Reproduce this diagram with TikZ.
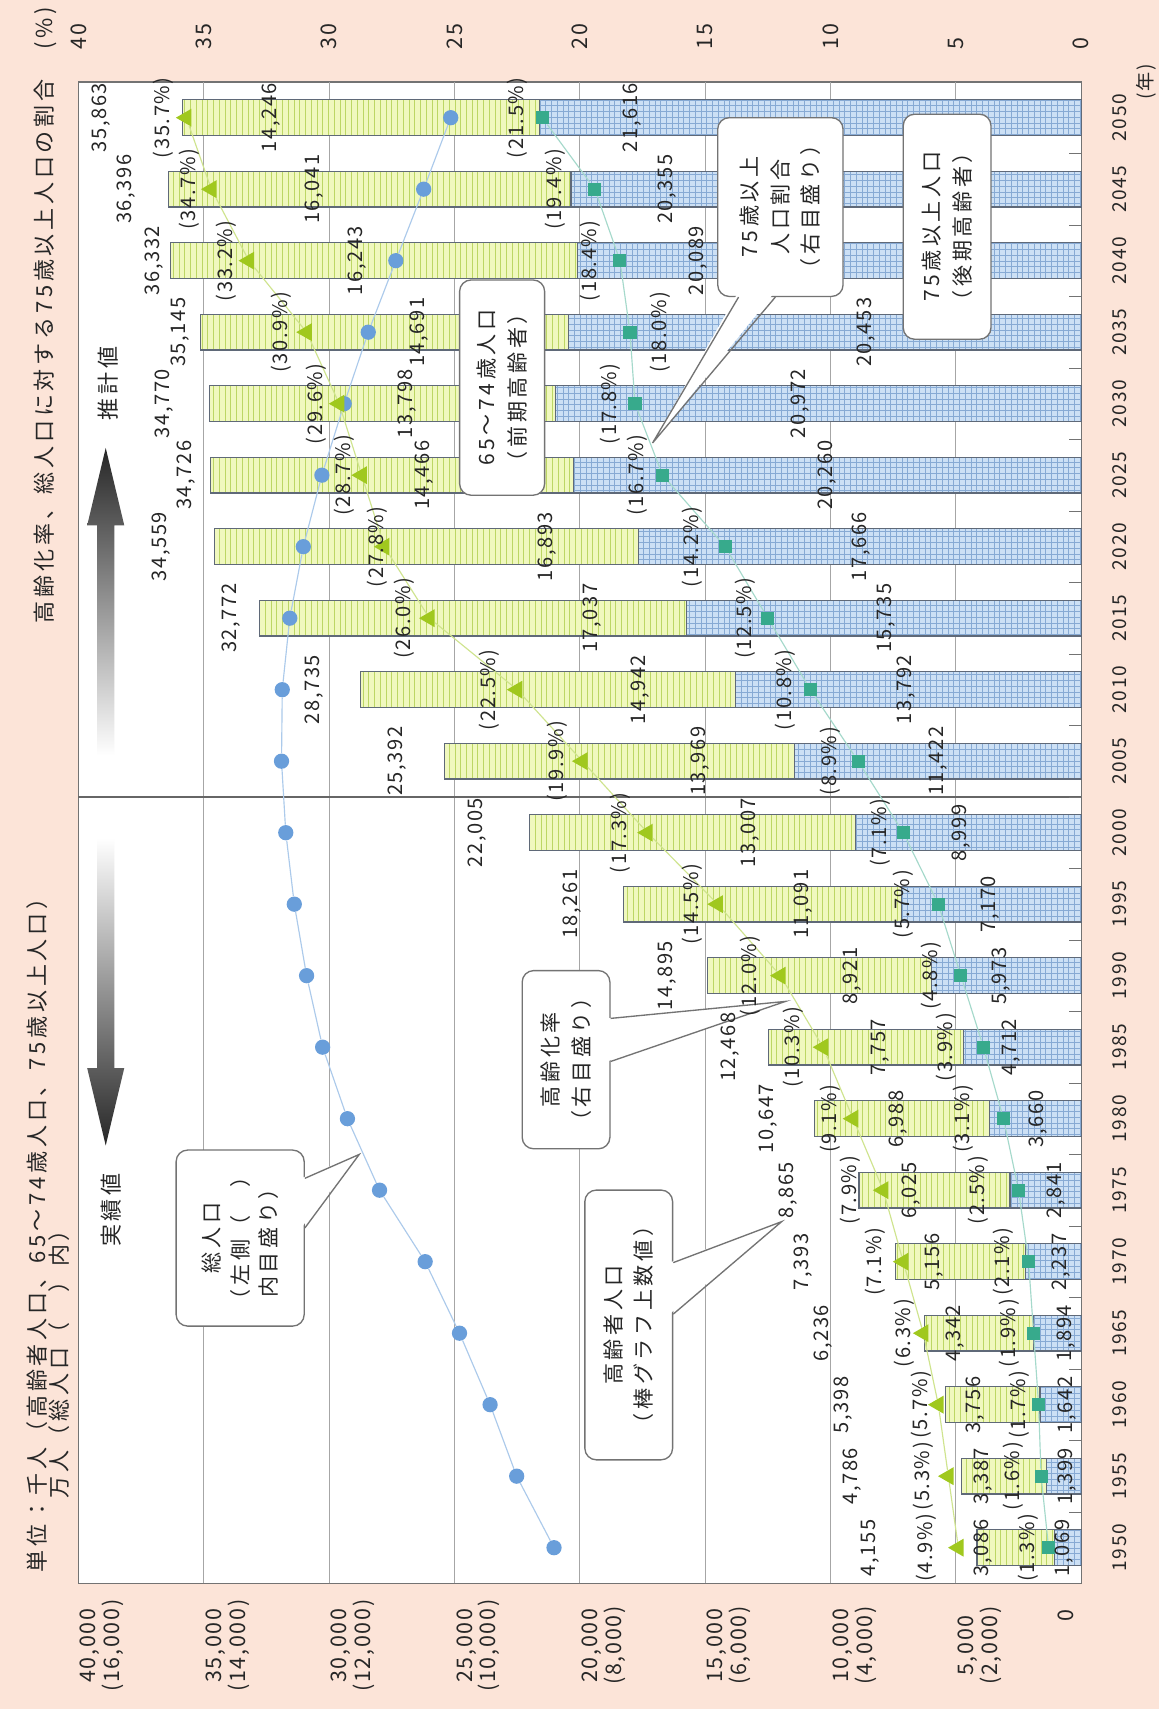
\documentclass[tikz,border=0pt]{standalone}
\usepackage{fontspec}
\setmainfont{Noto Sans CJK JP}[LetterSpace=8]
\newfontfamily\widefont{Noto Sans CJK JP}[LetterSpace=17]
\usetikzlibrary{shapes.geometric,patterns,calc}

\definecolor{bgpink}{RGB}{252,228,216}
\definecolor{oldblue}{RGB}{204,224,245}
\definecolor{oldgrid}{RGB}{135,170,212}
\definecolor{youngfill}{RGB}{240,248,190}
\definecolor{youngline}{RGB}{188,214,100}
\definecolor{barline}{RGB}{95,105,120}
\definecolor{popblue}{RGB}{105,158,218}
\definecolor{rategreen}{RGB}{160,200,30}
\definecolor{oldteal}{RGB}{55,170,140}

\pgfdeclarelayer{front}
\pgfsetlayers{main,front}

\begin{document}
\begin{tikzpicture}[
    font=\fontsize{10.5}{12}\selectfont,
    every node/.style={text=black!85},
    gridline/.style={draw=black!35, line width=0.6pt},
    oldbar/.style={
        draw=barline,
        line width=0.6pt,
        preaction={fill=oldblue},
        pattern=grid,
        pattern color=oldgrid
    },
    youngbar/.style={
        draw=barline,
        line width=0.6pt,
        preaction={fill=youngfill},
        pattern=vertical lines,
        pattern color=youngline
    },
    popdot/.style={circle, fill=popblue, inner sep=0pt, minimum size=0.28cm},
    ratemark/.style={regular polygon, regular polygon sides=3, fill=rategreen, inner sep=0pt, minimum size=0.38cm},
    oldmark/.style={rectangle, fill=oldteal, inner sep=0pt, minimum size=0.24cm},
    popline/.style={draw=popblue!55, line width=0.6pt},
    rateline/.style={draw=rategreen!50, line width=0.6pt},
    oldline/.style={draw=oldteal!45, line width=0.6pt},
    datalabel/.style={inner sep=0pt},
    yearlabel/.style={inner sep=0pt, font=\fontsize{10}{12}\selectfont},
    titletext/.style={inner sep=0pt, align=left, font=\widefont\fontsize{11.5}{11.5}\selectfont},
    axislabel/.style={inner sep=0pt, align=center, font=\fontsize{11.2}{12.5}\selectfont},
    notebox/.style={
        draw=black!55,
        fill=white,
        rounded corners=6pt,
        line width=0.7pt,
        align=center,
        inner sep=2pt,
        font=\widefont\fontsize{11}{16}\selectfont
    },
    boxline/.style={draw=black!55, line width=0.7pt}
]

    % Page
    \fill[bgpink] (0,0) rectangle (21.26,31.36);
    \useasboundingbox (0,0) rectangle (21.26,31.36);

    % Chart, turned a quarter turn
    \begin{scope}[shift={(19.84,2.96)}, rotate=90, x=1.312cm, y=0.46cm, transform shape]

    % Plot area
    \draw[fill=white, draw=black!55, line width=0.7pt] (-0.5,0) rectangle (20.5,40);
    \foreach \v in {5,10,...,35}
        \draw[gridline] (-0.5,\v) -- (20.5,\v);
    \draw[black!60, line width=0.7pt] (10.5,0) -- (10.5,40);
    \foreach \k in {0,...,19}
        \draw[black!55] (\k+0.5,0) -- (\k+0.5,0.5);

    % Bars (75+ / 65-74) with their numbers
    \foreach \i/\ov/\tv/\otx/\ytx/\ttx/\ovl/\yvl/\tvl in {
        0/1.069/4.155/{1,069}/{3,086}/{4,155}/0.67/3.9/8.4,
        1/1.399/4.786/{1,399}/{3,387}/{4,786}/0.55/3.9/9.15,
        2/1.642/5.398/{1,642}/{3,756}/{5,398}/0.55/4.25/9.5,
        3/1.894/6.236/{1,894}/{4,342}/{6,236}/0.6/5.05/10.3,
        4/2.237/7.393/{2,237}/{5,156}/{7,393}/0.8/5.85/11.1,
        5/2.841/8.865/{2,841}/{6,025}/{8,865}/1.0/6.8/11.7,
        6/3.660/10.647/{3,660}/{6,988}/{10,647}/1.7/7.3/12.5,
        7/4.712/12.468/{4,712}/{7,757}/{12,468}/2.8/8.0/14.0,
        8/5.973/14.895/{5,973}/{8,921}/{14,895}/3.2/9.15/16.5,
        9/7.170/18.261/{7,170}/{11,091}/{18,261}/3.65/11.1/20.3,
        10/8.999/22.005/{8,999}/{13,007}/{22,005}/4.8/13.2/24.1,
        11/11.422/25.392/{11,422}/{13,969}/{25,392}/5.7/15.2/27.3,
        12/13.792/28.735/{13,792}/{14,942}/{28,735}/7.0/17.6/30.6,
        13/15.735/32.772/{15,735}/{17,037}/{32,772}/7.8/19.5/33.9,
        14/17.666/34.559/{17,666}/{16,893}/{34,559}/8.8/21.3/36.7,
        15/20.260/34.726/{20,260}/{14,466}/{34,726}/10.15/26.2/35.7,
        16/20.972/34.770/{20,972}/{13,798}/{34,770}/11.2/26.9/36.6,
        17/20.453/35.145/{20,453}/{14,691}/{35,145}/8.6/26.4/35.95,
        18/20.089/36.332/{20,089}/{16,243}/{36,332}/15.3/28.9/37.0,
        19/20.355/36.396/{20,355}/{16,041}/{36,396}/16.5/30.6/38.1,
        20/21.616/35.863/{21,616}/{14,246}/{35,863}/17.9/32.3/39.1} {
        \path[oldbar] (\i-0.25,0) rectangle (\i+0.25,\ov);
        \path[youngbar] (\i-0.25,\ov) rectangle (\i+0.25,\tv);
        \begin{pgfonlayer}{front}
            \node[datalabel] (old\i) at (\i,\ovl) {\otx};
            \node[datalabel] (young\i) at (\i,\yvl) {\ytx};
            \node[datalabel] (total\i) at (\i,\tvl) {\ttx};
        \end{pgfonlayer}
    }

    % Markers: total population, ageing rate, 75+ share
    \foreach \i/\rt/\qt/\pp/\rl/\ql in {
        0/4.9/1.3/21.03/6.18/2.13,
        1/5.3/1.6/22.52/6.3/2.73,
        2/5.7/1.7/23.58/6.38/2.46,
        3/6.3/1.9/24.80/7.05/2.86,
        4/7.1/2.1/26.17/8.2/3.1,
        5/7.9/2.5/27.99/9.2/4.1,
        6/9.1/3.1/29.27/10.0/4.7,
        7/10.3/3.9/30.26/11.5/5.4,
        8/12.0/4.8/30.90/13.2/6.0,
        9/14.5/5.7/31.39/15.5/7.1,
        10/17.3/7.1/31.73/18.4/8.0,
        11/19.9/8.9/31.90/20.9/10.0,
        12/22.5/10.8/31.87/23.6/11.8,
        13/26.0/12.5/31.57/27.0/13.4,
        14/27.8/14.2/31.03/28.1/15.5,
        15/28.7/16.7/30.29/29.4/17.7,
        16/29.6/17.8/29.40/30.5/18.8,
        17/30.9/18.0/28.44/31.9/16.8,
        18/33.2/18.4/27.34/34.1/19.6,
        19/34.7/19.4/26.23/35.6/21.0,
        20/35.7/21.5/25.15/36.6/22.5} {
        \node[popdot] (pop\i) at (\i,\pp) {};
        \node[ratemark] (tri\i) at (\i,\rt) {};
        \node[oldmark] (sq\i) at (\i,\qt) {};
        \begin{pgfonlayer}{front}
            \node[datalabel] (rate\i) at (\i,\rl) {(\rt\%)};
            \node[datalabel] (share\i) at (\i,\ql) {(\qt\%)};
        \end{pgfonlayer}
    }
    \foreach \i [evaluate=\i as \j using int(\i+1)] in {0,...,19} {
        \draw[popline] (pop\i) -- (pop\j);
        \draw[rateline] (tri\i) -- (tri\j);
        \draw[oldline] (sq\i) -- (sq\j);
    }

    % Axes
    \foreach \i [evaluate=\i as \yr using int(1950+5*\i)] in {0,...,20}
        \node[yearlabel] (yr\i) at (\i,-1.52) {\yr};
    \node[yearlabel] (unit) at (20.5,-2.6) {(年)};
    \node[axislabel] (lft0) at (-0.95,0.6) {0};
    \foreach \v/\a/\b in {5/{5,000}/{(2,000)}, 10/{10,000}/{(4,000)}, 15/{15,000}/{(6,000)},
                          20/{20,000}/{(8,000)}, 25/{25,000}/{(10,000)}, 30/{30,000}/{(12,000)},
                          35/{35,000}/{(14,000)}, 40/{40,000}/{(16,000)}}
        \node[axislabel] (lft\v) at (-1.37,\v-0.95) {\a\\\b};
    \foreach \v in {0,5,...,40}
        \node[axislabel, anchor=west] (rgt\v) at (20.95,\v) {\v};

    % Titles
    \node[titletext, anchor=west] (unitnote) at (-0.35,41.22)
        {単位：千人（高齢者人口、65〜74歳人口、75歳以上人口）\\\phantom{単位：}万人（総人口（　）内）};
    \node[titletext, anchor=east] (ratenote) at (21.55,41.3)
        {高齢化率、総人口に対する75歳以上人口の割合　(\%)};
    \node[titletext, font=\widefont\fontsize{11.5}{12}\selectfont] (est) at (16.28,38.8) {推計値};
    \node[titletext, font=\widefont\fontsize{11.5}{12}\selectfont] (act) at (4.72,38.7) {実績値};

    % Callouts
    \node[notebox, minimum width=3.23cm, minimum height=2.35cm, font=\widefont\fontsize{11}{15}\selectfont] (boxA) at (4.33,33.55)
        {総人口\\（左側（　）\\内目盛り）};
    \coordinate (tipA) at (5.5,28.8);
    \path[fill=white] ($(boxA.south west)!0.557!(boxA.south east)+(0,0.15)$) -- (tipA)
        -- ($(boxA.south west)!0.837!(boxA.south east)+(0,0.15)$) -- cycle;
    \draw[boxline] ($(boxA.south west)!0.557!(boxA.south east)$) -- (tipA)
        -- ($(boxA.south west)!0.837!(boxA.south east)$);

    \node[notebox, minimum width=4.95cm, minimum height=1.61cm] (boxB) at (3.115,18.05)
        {高齢者人口\\（棒グラフ上数値）};
    \coordinate (tipB) at (4.56,11.95);
    \path[fill=white] ($(boxB.south west)!0.54!(boxB.south east)+(0,0.15)$) -- (tipB)
        -- ($(boxB.south west)!0.73!(boxB.south east)+(0,0.15)$) -- cycle;
    \draw[boxline] ($(boxB.south west)!0.54!(boxB.south east)$) -- (tipB)
        -- ($(boxB.south west)!0.73!(boxB.south east)$);

    \node[notebox, minimum width=3.27cm, minimum height=1.61cm] (boxC) at (6.825,20.55)
        {高齢化率\\（右目盛り）};
    \coordinate (tipC) at (7.64,11.8);
    \path[fill=white] ($(boxC.south west)!0.49!(boxC.south east)+(0,0.15)$) -- (tipC)
        -- ($(boxC.south west)!0.73!(boxC.south east)+(0,0.15)$) -- cycle;
    \draw[boxline] ($(boxC.south west)!0.49!(boxC.south east)$) -- (tipC)
        -- ($(boxC.south west)!0.73!(boxC.south east)$);

    \node[notebox, minimum width=3.95cm, minimum height=1.56cm] (boxD) at (16.225,23.1)
        {65〜74歳人口\\（前期高齢者）};

    \node[notebox, minimum width=3.28cm, minimum height=2.3cm] (boxE) at (18.75,12.0)
        {75歳以上\\人口割合\\（右目盛り）};
    \coordinate (tipE) at (15.45,17.1);
    \path[fill=white] ($(boxE.south west)!0.54!(boxE.north west)+(0.08,0)$) -- (tipE)
        -- ($(boxE.south west)!0.83!(boxE.north west)+(0.08,0)$) -- cycle;
    \draw[boxline] ($(boxE.south west)!0.54!(boxE.north west)$) -- (tipE)
        -- ($(boxE.south west)!0.83!(boxE.north west)$);

    \node[notebox, minimum width=4.13cm, minimum height=1.61cm] (boxF) at (18.475,5.35)
        {75歳以上人口\\（後期高齢者）};

    \end{scope}

    % Shaded arrows: projection (up) and actual (down)
    \shade[top color=black!85, bottom color=white]
        (1.78,17.5) -- (1.78,21.72) -- (1.60,21.72) -- (1.94,23.14)
        -- (2.28,21.72) -- (2.10,21.72) -- (2.10,17.5) -- cycle;
    \shade[top color=white, bottom color=black!85]
        (1.78,15.98) -- (1.78,11.76) -- (1.60,11.76) -- (1.94,10.34)
        -- (2.28,11.76) -- (2.10,11.76) -- (2.10,15.98) -- cycle;

\end{tikzpicture}
\end{document}
